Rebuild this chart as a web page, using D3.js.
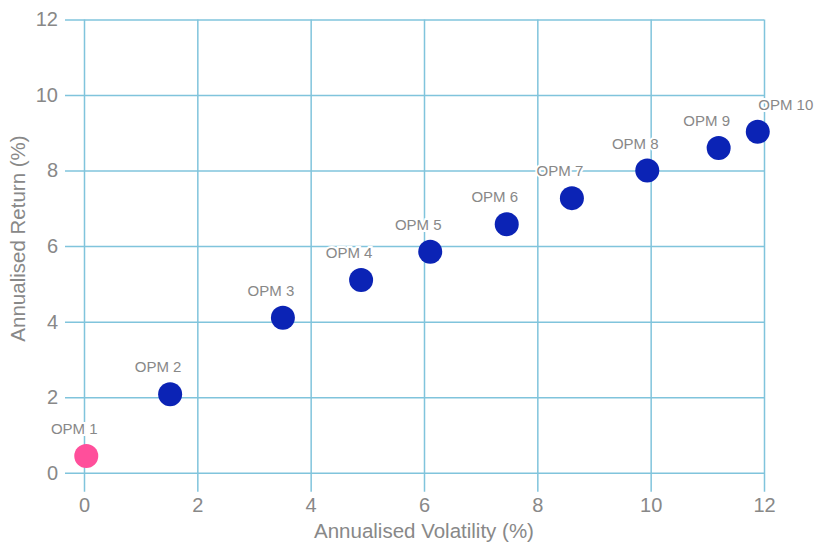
<!DOCTYPE html>
<html>
<head>
<meta charset="utf-8">
<script src="https://cdn.jsdelivr.net/npm/d3@7"></script>
<style>
  body { margin: 0; background: #fff; }
  text { font-family: "Liberation Sans", Arial, sans-serif; }
</style>
</head>
<body>
<script>
var names = ["OPM 1", "OPM 2", "OPM 3", "OPM 4", "OPM 5", "OPM 6", "OPM 7", "OPM 8", "OPM 9", "OPM 10"];
var volatility = [0.04, 1.52, 3.51, 4.89, 6.11, 7.46, 8.61, 9.94, 11.2, 11.89];
var returns = [0.44, 2.08, 4.1, 5.1, 5.85, 6.58, 7.27, 8.0, 8.6, 9.03];
var xTicks = [0, 2, 4, 6, 8, 10, 12];
var yTicks = [0, 2, 4, 6, 8, 10, 12];

var width = 814;
var height = 544;
var plotLeft = 84, plotRight = 764, plotTop = 19.5, plotBottom = 472.7;
var gridColor = "#80c4dc";
var textColor = "#888";

var svg = d3.select("body").append("svg")
  .attr("width", width)
  .attr("height", height);

var xScale = d3.scaleLinear().domain([0, 12]).range([plotLeft, plotRight]);
var yScale = d3.scaleLinear().domain([0, 12]).range([plotBottom, plotTop]);

// grid lines (they run past the plot edge as ticks)
var xAxis = d3.axisBottom(xScale).tickValues(xTicks)
  .tickSize(0).tickPadding(6);
var yAxis = d3.axisLeft(yScale).tickValues(yTicks)
  .tickSize(0).tickPadding(7);

var gx = svg.append("g")
  .attr("transform", "translate(0," + (plotBottom + 19) + ")")
  .call(xAxis);
var gy = svg.append("g")
  .attr("transform", "translate(" + (plotLeft - 19) + ",0)")
  .call(yAxis);

gx.select(".domain").remove();
gy.select(".domain").remove();

// grid lines from the tick position across to the far side of the plot
gx.selectAll(".tick line").attr("y1", 0).attr("y2", -(plotBottom + 19 - plotTop));
gy.selectAll(".tick line").attr("x1", 0).attr("x2", plotRight - plotLeft + 19);

svg.selectAll(".tick line").attr("stroke", gridColor).attr("stroke-width", 1.5);
svg.selectAll(".tick text")
  .attr("fill", textColor)
  .style("font-size", "20px");
gx.selectAll(".tick text").attr("dy", "0.71em");

svg.append("text")
  .attr("x", (plotLeft + plotRight) / 2)
  .attr("y", 538)
  .attr("text-anchor", "middle")
  .attr("fill", textColor)
  .style("font-size", "20.5px")
  .text("Annualised Volatility (%)");

svg.append("text")
  .attr("transform", "translate(25," + 238.5 + ") rotate(-90)")
  .attr("text-anchor", "middle")
  .attr("fill", textColor)
  .style("font-size", "20.5px")
  .text("Annualised Return (%)");

var points = svg.append("g");

points.selectAll("circle")
  .data(names)
  .enter()
  .append("circle")
  .attr("cx", (d, i) => xScale(volatility[i]))
  .attr("cy", (d, i) => yScale(returns[i]))
  .attr("r", 12)
  .attr("fill", (d, i) => i == 0 ? "#ff4f9b" : "#0b23b5");

// labels sit on a white halo that hides the grid behind them
var labelShift = names.map((d, i) => i == names.length - 1 ? 28 : -12);

var labels = svg.append("g");
labels.selectAll("text")
  .data(names)
  .enter()
  .append("text")
  .attr("x", (d, i) => xScale(volatility[i]) + labelShift[i])
  .attr("y", (d, i) => yScale(returns[i]) - 22)
  .attr("text-anchor", "middle")
  .attr("fill", textColor)
  .attr("stroke", "#fff")
  .attr("stroke-width", 4)
  .attr("paint-order", "stroke")
  .style("font-size", "15px")
  .text(d => d);
</script>
</body>
</html>
